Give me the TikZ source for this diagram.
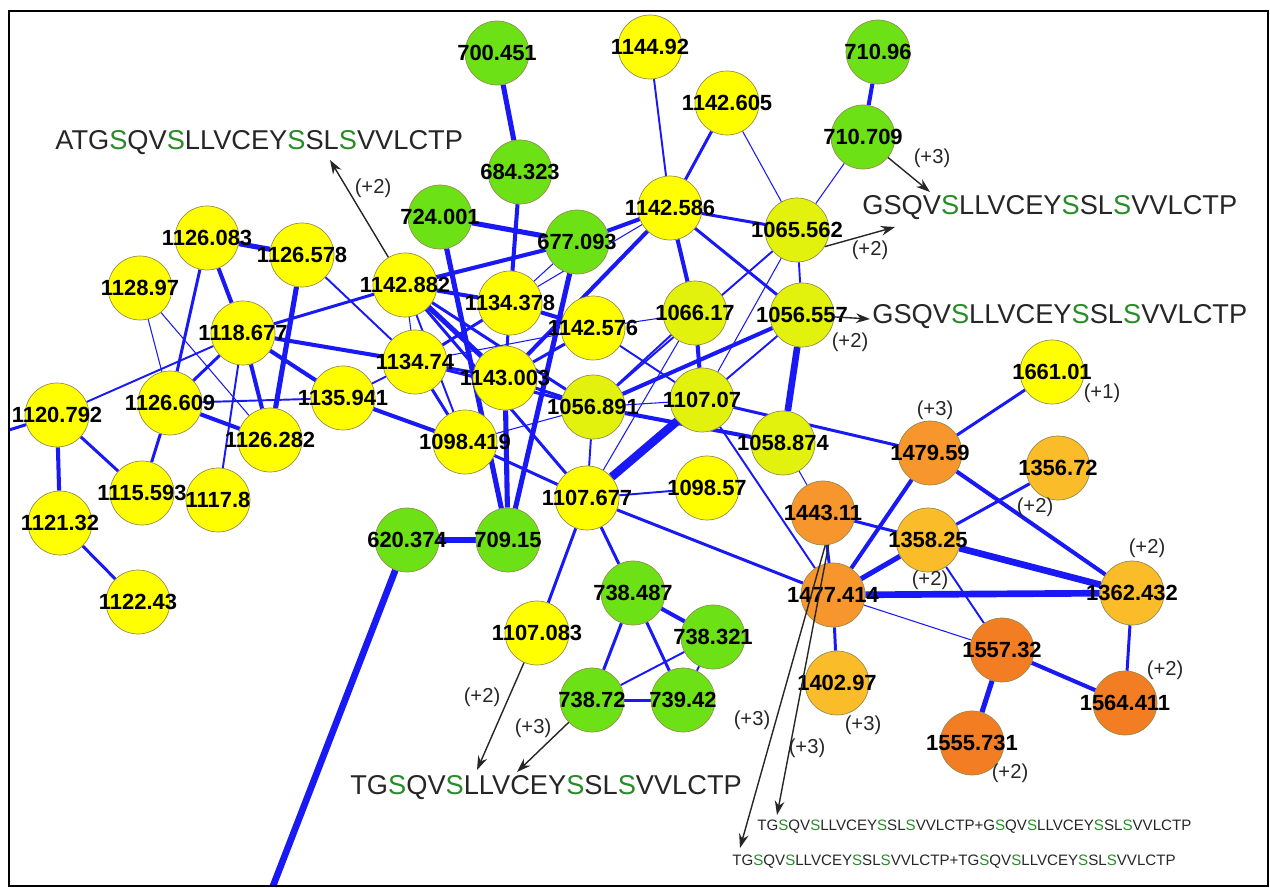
\documentclass[tikz,border=0pt]{standalone}
\usepackage{fontspec}
\setmainfont{Liberation Sans}
\usetikzlibrary{arrows.meta}
\pgfdeclarelayer{bg}
\pgfsetlayers{bg,main}

\definecolor{pepgreen}{RGB}{108,226,22}
\definecolor{pepyellow}{RGB}{255,255,0}
\definecolor{pepyg}{RGB}{226,242,12}
\definecolor{pepora}{RGB}{246,150,45}
\definecolor{peporb}{RGB}{242,125,35}
\definecolor{peporc}{RGB}{250,188,40}
\definecolor{pepedge}{RGB}{150,140,80}
\definecolor{linkblue}{RGB}{25,25,245}
\definecolor{seqgreen}{RGB}{40,140,40}

\newcommand{\gS}{\textcolor{seqgreen}{S}}
% mass label may run past the circle
\newcommand{\mz}[1]{\makebox[0pt]{#1}}

\tikzset{
  pep/.style={circle, draw=pepedge, line width=0.4pt, minimum size=1.28cm, inner sep=0pt,
    font=\fontsize{12.5}{12}\selectfont\bfseries},
  grn/.style={pep, fill=pepgreen},
  ylw/.style={pep, fill=pepyellow},
  ygr/.style={pep, fill=pepyg},
  ora/.style={pep, fill=pepora},
  orb/.style={pep, fill=peporb},
  orc/.style={pep, fill=peporc},
  e1/.style={draw=linkblue, line width=0.6pt},
  e2/.style={draw=linkblue, line width=1.1pt},
  e3/.style={draw=linkblue, line width=1.7pt},
  e4/.style={draw=linkblue, line width=2.3pt},
  e5/.style={draw=linkblue, line width=2.9pt},
  e6/.style={draw=linkblue, line width=3.8pt},
  e8/.style={draw=linkblue, line width=4.8pt},
  seq/.style={anchor=west, inner sep=0pt, text=black!85, font=\fontsize{15.5}{16}\selectfont},
  seqsmall/.style={anchor=west, inner sep=0pt, text=black!85, font=\fontsize{8.6}{9}\selectfont},
  chg/.style={inner sep=0pt, text=black!85, font=\fontsize{11.5}{12}\selectfont},
  frag/.style={draw=black!85, line width=0.8pt, -{Stealth[length=8pt,width=5.5pt]}}
}

\begin{document}
\begin{tikzpicture}[x=0.02cm,y=-0.02cm]
  \useasboundingbox (0,0) rectangle (1270,888);
  \draw[line width=1.2pt] (9,11) rectangle (1268,886);

  %% green peptides
  \node[grn] (m700-451) at (497,53) {\mz{700.451}};
  \node[grn] (m684-323) at (520,172) {\mz{684.323}};
  \node[grn] (m724-001) at (440,217) {\mz{724.001}};
  \node[grn] (m677-093) at (577,242) {\mz{677.093}};
  \node[grn] (m710-96) at (878,52) {\mz{710.96}};
  \node[grn] (m710-709) at (863,137) {\mz{710.709}};
  \node[grn] (m620-374) at (407,540) {\mz{620.374}};
  \node[grn] (m709-15) at (508,540) {\mz{709.15}};
  \node[grn] (m738-487) at (633,593) {\mz{738.487}};
  \node[grn] (m738-321) at (713,637) {\mz{738.321}};
  \node[grn] (m738-72) at (592,700) {\mz{738.72}};
  \node[grn] (m739-42) at (683,700) {\mz{739.42}};

  %% yellow peptides
  \node[ylw] (m1144-92) at (650,47) {\mz{1144.92}};
  \node[ylw] (m1142-605) at (727,103) {\mz{1142.605}};
  \node[ylw] (m1142-586) at (670,208) {\mz{1142.586}};
  \node[ylw] (m1142-882) at (405,285) {\mz{1142.882}};
  \node[ylw] (m1126-083) at (207,238) {\mz{1126.083}};
  \node[ylw] (m1126-578) at (302,255) {\mz{1126.578}};
  \node[ylw] (m1128-97) at (140,288) {\mz{1128.97}};
  \node[ylw] (m1118-677) at (243,333) {\mz{1118.677}};
  \node[ylw] (m1126-609) at (170,403) {\mz{1126.609}};
  \node[ylw] (m1120-792) at (57,415) {\mz{1120.792}};
  \node[ylw] (m1126-282) at (270,440) {\mz{1126.282}};
  \node[ylw] (m1135-941) at (343,398) {\mz{1135.941}};
  \node[ylw] (m1115-593) at (142,493) {\mz{1115.593}};
  \node[ylw] (m1117-8) at (218,500) {\mz{1117.8}};
  \node[ylw] (m1121-32) at (60,523) {\mz{1121.32}};
  \node[ylw] (m1122-43) at (138,602) {\mz{1122.43}};
  \node[ylw] (m1134-378) at (510,303) {\mz{1134.378}};
  \node[ylw] (m1134-74) at (415,362) {\mz{1134.74}};
  \node[ylw] (m1143-003) at (505,378) {\mz{1143.003}};
  \node[ylw] (m1142-576) at (593,328) {\mz{1142.576}};
  \node[ylw] (m1098-419) at (465,442) {\mz{1098.419}};
  \node[ylw] (m1107-677) at (587,498) {\mz{1107.677}};
  \node[ylw] (m1098-57) at (707,488) {\mz{1098.57}};
  \node[ylw] (m1107-083) at (537,633) {\mz{1107.083}};
  \node[ylw] (m1661-01) at (1052,372) {\mz{1661.01}};

  %% yellow-green peptides
  \node[ygr] (m1065-562) at (797,230) {\mz{1065.562}};
  \node[ygr] (m1066-17) at (695,313) {\mz{1066.17}};
  \node[ygr] (m1056-557) at (802,315) {\mz{1056.557}};
  \node[ygr] (m1056-891) at (593,407) {\mz{1056.891}};
  \node[ygr] (m1107-07) at (702,400) {\mz{1107.07}};
  \node[ygr] (m1058-874) at (783,443) {\mz{1058.874}};

  %% orange peptides
  \node[ora] (m1479-59) at (930,453) {\mz{1479.59}};
  \node[ora] (m1443-11) at (823,513) {\mz{1443.11}};
  \node[ora] (m1477-414) at (833,595) {\mz{1477.414}};
  \node[orb] (m1557-32) at (1002,650) {\mz{1557.32}};
  \node[orb] (m1564-411) at (1125,703) {\mz{1564.411}};
  \node[orb] (m1555-731) at (972,743) {\mz{1555.731}};
  \node[orc] (m1356-72) at (1058,468) {\mz{1356.72}};
  \node[orc] (m1358-25) at (928,540) {\mz{1358.25}};
  \node[orc] (m1362-432) at (1132,593) {\mz{1362.432}};
  \node[orc] (m1402-97) at (837,683) {\mz{1402.97}};

  \coordinate (outL) at (9,430);
  \coordinate (outB) at (273,886);

  %% links
  \begin{pgfonlayer}{bg}
    \draw[e5] (m700-451) -- (m684-323);
    \draw[e4] (m684-323) -- (m1134-378);
    \draw[e2] (m1144-92) -- (m1142-586);
    \draw[e3] (m1142-605) -- (m1142-586);
    \draw[e1] (m1142-605) -- (m1065-562);
    \draw[e4] (m710-96) -- (m710-709);
    \draw[e1] (m710-709) -- (m1065-562);
    \draw[e5] (m724-001) -- (m677-093);
    \draw[e5] (m724-001) -- (m709-15);
    \draw[e5] (m677-093) -- (m709-15);
    \draw[e4] (m677-093) -- (m1142-586);
    \draw[e4] (m1142-882) -- (m677-093);
    \draw[e1] (m677-093) -- (m1134-378);
    \draw[e1] (m1134-378) -- (m1142-586);

    \draw[e5] (m1126-083) -- (m1126-578);
    \draw[e4] (m1126-083) -- (m1118-677);
    \draw[e3] (m1126-083) -- (m1126-609);
    \draw[e5] (m1126-578) -- (m1126-282);
    \draw[e2] (m1126-578) -- (m1134-74);
    \draw[e1] (m1128-97) -- (m1126-609);
    \draw[e1] (m1128-97) -- (m1126-282);
    \draw[e2] (m1118-677) -- (m1120-792);
    \draw[e3] (m1120-792) -- (outL);
    \draw[e3] (m1118-677) -- (m1126-609);
    \draw[e2] (m1118-677) -- (m1117-8);
    \draw[e4] (m1118-677) -- (m1126-282);
    \draw[e4] (m1118-677) -- (m1135-941);
    \draw[e4] (m1118-677) -- (m1134-74);
    \draw[e3] (m1118-677) -- (m1142-882);
    \draw[e3] (m1126-609) -- (m1115-593);
    \draw[e4] (m1126-609) -- (m1126-282);
    \draw[e2] (m1126-609) -- (m1135-941);
    \draw[e3] (m1120-792) -- (m1115-593);
    \draw[e4] (m1120-792) -- (m1121-32);
    \draw[e3] (m1121-32) -- (m1122-43);
    \draw[e2] (m1135-941) -- (m1134-74);
    \draw[e4] (m1135-941) -- (m1098-419);
    \draw[e3] (m1098-419) -- (m1107-677);

    \draw[e4] (m1142-882) -- (m1134-378);
    \draw[e1] (m1142-882) -- (m1134-74);
    \draw[e5] (m1142-882) -- (m1143-003);
    \draw[e3] (m1142-882) -- (m1056-891);
    \draw[e3] (m1142-882) -- (m1107-677);
    \draw[e2] (m1142-882) -- (m1098-419);
    \draw[e3] (m1134-378) -- (m1143-003);
    \draw[e4] (m1134-378) -- (m1142-576);
    \draw[e3] (m1134-74) -- (m1143-003);
    \draw[e3] (m1134-74) -- (m1134-378);
    \draw[e1] (m1134-74) -- (m1142-576);
    \draw[e3] (m1134-74) -- (m1098-419);
    \draw[e3] (m1134-74) -- (m1056-891);
    \draw[e1] (m1098-419) -- (m1056-891);
    \draw[e5] (m1143-003) -- (m709-15);
    \draw[e3] (m1143-003) -- (m1142-576);
    \draw[e3] (m1143-003) -- (m1056-891);
    \draw[e4] (m1142-586) -- (m1143-003);
    \draw[e4] (m1142-586) -- (m1066-17);
    \draw[e3] (m1142-586) -- (m1065-562);
    \draw[e3] (m1142-586) -- (m1056-557);
    \draw[e1] (m1142-576) -- (m1066-17);
    \draw[e2] (m1142-576) -- (m1107-07);
    \draw[e2] (m1065-562) -- (m1056-891);
    \draw[e2] (m1065-562) -- (m1056-557);
    \draw[e1] (m1065-562) -- (m1107-07);
    \draw[e4] (m1056-557) -- (m1056-891);
    \draw[e2] (m1056-557) -- (m1107-07);
    \draw[e6] (m1056-557) -- (m1058-874);
    \draw[e4] (m1066-17) -- (m1107-07);
    \draw[e2] (m1066-17) -- (m1056-891);
    \draw[e1] (m1066-17) -- (m1107-677);
    \draw[e1] (m1056-891) -- (m1107-07);
    \draw[e2] (m1056-891) -- (m1107-677);
    \draw[e8] (m1107-07) -- (m1107-677);
    \draw[e4] (m1056-891) -- (m1058-874);
    \draw[e3] (m1107-07) -- (m1479-59);
    \draw[e2] (m1107-07) -- (m1477-414);
    \draw[e1] (m1058-874) -- (m1443-11);
    \draw[e3] (m1107-677) -- (m1477-414);
    \draw[e2] (m1107-677) -- (m1098-57);
    \draw[e3] (m1107-677) -- (m738-487);
    \draw[e3] (m1107-677) -- (m1107-083);
    \draw[e6] (m620-374) -- (m709-15);
    \draw[e6] (m620-374) -- (outB);

    \draw[e4] (m738-487) -- (m738-321);
    \draw[e3] (m738-487) -- (m738-72);
    \draw[e3] (m738-487) -- (m739-42);
    \draw[e2] (m738-72) -- (m738-321);
    \draw[e3] (m738-72) -- (m739-42);
    \draw[e2] (m738-321) -- (m739-42);

    \draw[e3] (m1443-11) -- (m1358-25);
    \draw[e3] (m1443-11) -- (m1477-414);
    \draw[e4] (m1477-414) -- (m1479-59);
    \draw[e5] (m1477-414) -- (m1358-25);
    \draw[e6] (m1477-414) -- (m1362-432);
    \draw[e1] (m1477-414) -- (m1557-32);
    \draw[e3] (m1477-414) -- (m1402-97);
    \draw[e3] (m1479-59) -- (m1661-01);
    \draw[e4] (m1479-59) -- (m1362-432);
    \draw[e3] (m1358-25) -- (m1356-72);
    \draw[e6] (m1358-25) -- (m1362-432);
    \draw[e2] (m1358-25) -- (m1557-32);
    \draw[e3] (m1362-432) -- (m1564-411);
    \draw[e4] (m1557-32) -- (m1564-411);
    \draw[e5] (m1557-32) -- (m1555-731);
  \end{pgfonlayer}

  %% sequences
  \node[seq] (sATG) at (55,143) {ATG\gS QV\gS LLVCEY\gS SL\gS VVLCTP};
  \node[seq] (sGS1) at (862,208) {GSQV\gS LLVCEY\gS SL\gS VVLCTP};
  \node[seq] (sGS2) at (872,317) {GSQV\gS LLVCEY\gS SL\gS VVLCTP};
  \node[seq] (sTG) at (350,788) {TG\gS QV\gS LLVCEY\gS SL\gS VVLCTP};
  \node[seqsmall] (sTGG) at (757,827) {TG\gS QV\gS LLVCEY\gS SL\gS VVLCTP+G\gS QV\gS LLVCEY\gS SL\gS VVLCTP};
  \node[seqsmall] (sTGTG) at (732,862) {TG\gS QV\gS LLVCEY\gS SL\gS VVLCTP+TG\gS QV\gS LLVCEY\gS SL\gS VVLCTP};

  %% fragment arrows
  \coordinate (tA) at (330,160);
  \coordinate (tB) at (930,192);
  \coordinate (tC) at (895,227);
  \coordinate (tD) at (870,319);
  \coordinate (tE) at (477,770);
  \coordinate (tF) at (517,772);
  \coordinate (tG) at (777,815);
  \coordinate (tH) at (740,848);
  \draw[frag] (m1142-882) -- (tA);
  \draw[frag] (m710-709) -- (tB);
  \draw[frag] (m1065-562.-31) -- (tC);
  \draw[frag] (m1056-557) -- (tD);
  \draw[frag] (m1107-083) -- (tE);
  \draw[frag] (m738-72) -- (tF);
  \draw[frag] (m1443-11.-80) -- (tG);
  \draw[frag] (m1443-11.-86) -- (tH);

  %% charge states
  \node[chg] (c1) at (373,188) {(+2)};
  \node[chg] (c2) at (932,158) {(+3)};
  \node[chg] (c3) at (870,250) {(+2)};
  \node[chg] (c4) at (850,342) {(+2)};
  \node[chg] (c5) at (1102,393) {(+1)};
  \node[chg] (c6) at (935,410) {(+3)};
  \node[chg] (c7) at (1035,507) {(+2)};
  \node[chg] (c8) at (930,580) {(+2)};
  \node[chg] (c9) at (1147,548) {(+2)};
  \node[chg] (c10) at (1165,670) {(+2)};
  \node[chg] (c11) at (863,725) {(+3)};
  \node[chg] (c12) at (1010,773) {(+2)};
  \node[chg] (c13) at (752,720) {(+3)};
  \node[chg] (c14) at (807,748) {(+3)};
  \node[chg] (c15) at (482,697) {(+2)};
  \node[chg] (c16) at (533,728) {(+3)};
\end{tikzpicture}
\end{document}
